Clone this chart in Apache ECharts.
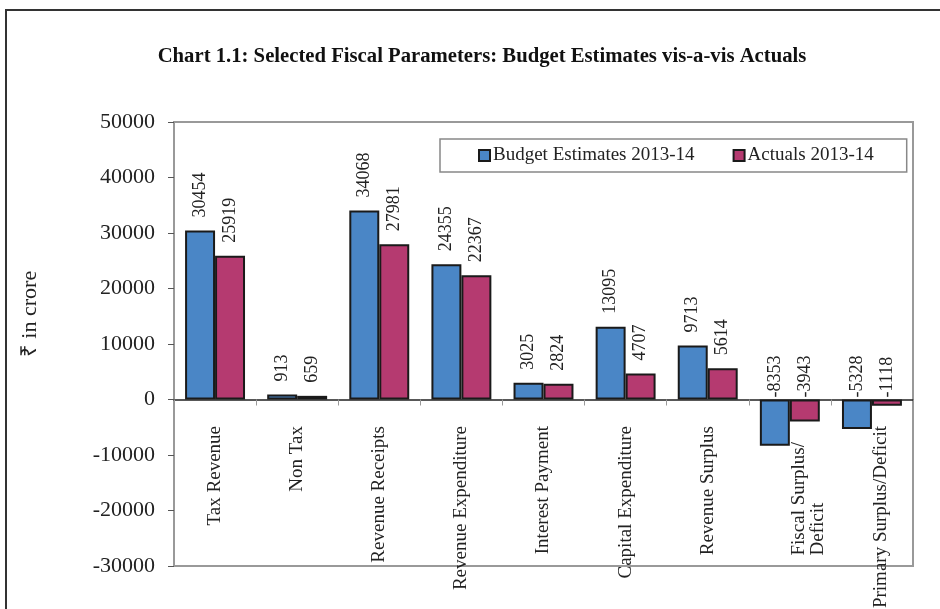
<!DOCTYPE html>
<html>
<head>
<meta charset="utf-8">
<script src="https://cdn.jsdelivr.net/npm/echarts@6/dist/echarts.min.js"></script>
<style>html,body{margin:0;padding:0;background:#fff}#c{width:940px;height:609px}</style>
</head>
<body>
<div id="c"></div>
<script>
const categories = ['Tax Revenue', 'Non Tax', 'Revenue Receipts', 'Revenue Expenditure', 'Interest Payment', 'Capital Expenditure', 'Revenue Surplus', 'Fiscal Surplus/\nDeficit', 'Primary Surplus/Deficit'];
const budgetEstimates = [30454, 913, 34068, 24355, 3025, 13095, 9713, -8353, -5328];
const actuals = [25919, 659, 27981, 22367, 2824, 4707, 5614, -3943, -1118];
const seriesNames = ['Budget Estimates 2013-14', 'Actuals 2013-14'];
const yTicks = { min: -30000, max: 50000, interval: 10000 };

const serif = '"Liberation Serif", "Times New Roman", serif';
const chart = echarts.init(document.getElementById('c'), null, { renderer: 'canvas' });

// label nudges (style only): number of blank leading lines (shift right) and extra gap from axis
const labelNudge = { 7: { lead: 2, gap: 16 }, 8: { lead: 1, gap: 0 } };

function catFormatter(value, index) {
  const n = labelNudge[index];
  if (!n) return value;
  const lines = value.split('\n').map((s, i) => '{a|' + s + '}' + (i === 0 && n.gap ? '{g|}' : ''));
  for (let i = 0; i < n.lead; i++) lines.unshift('{a| }');
  return lines.join('\n');
}

function toData(arr) {
  return arr.map(v => ({ value: v, label: { distance: v < 0 ? 2 : 13 } }));
}
const labelCfg = {
  show: true, position: 'top', rotate: 90, align: 'left', verticalAlign: 'middle',
  fontFamily: serif, fontSize: 18, color: '#222'
};

chart.setOption({
  animation: false,
  backgroundColor: '#fff',
  title: {
    text: 'Chart 1.1: Selected Fiscal Parameters: Budget Estimates vis-a-vis Actuals',
    left: 477, top: 41, textAlign: 'center',
    textStyle: { fontFamily: serif, fontWeight: 'bold', fontSize: 20.7, color: '#111' }
  },
  legend: {
    left: 440, top: 139,
    padding: [7, 33, 7, 38],
    itemGap: 38,
    itemWidth: 11, itemHeight: 11,
    icon: 'rect',
    borderColor: '#888', borderWidth: 1.5,
    textStyle: { fontFamily: serif, fontSize: 19, color: '#222', padding: [0, 0, 0, -2] },
    data: seriesNames
  },
  grid: {
    left: 174, right: 27, top: 122, bottom: 43,
    outerBoundsMode: 'none', containLabel: false,
    show: true, borderColor: '#999', borderWidth: 2, backgroundColor: 'transparent'
  },
  xAxis: {
    type: 'category',
    data: categories,
    axisLine: { onZero: true, lineStyle: { color: '#222', width: 1.5 } },
    axisTick: { show: true, length: 6, lineStyle: { color: '#999' } },
    axisLabel: {
      rotate: 90, margin: -140, fontFamily: serif, fontSize: 19, color: '#222',
      lineHeight: 19, interval: 0,
      formatter: catFormatter,
      rich: {
        a: { align: 'left', fontFamily: serif, fontSize: 19, lineHeight: 19, color: '#222' },
        g: { width: 16, fontSize: 19, lineHeight: 19 }
      }
    },
    splitLine: { show: false }
  },
  yAxis: {
    type: 'value',
    min: yTicks.min, max: yTicks.max, interval: yTicks.interval,
    axisLine: { show: true, lineStyle: { color: '#999', width: 2 } },
    axisTick: { show: true, length: 6, lineStyle: { color: '#555' } },
    axisLabel: { margin: 19, fontFamily: serif, fontSize: 22, color: '#222', formatter: v => String(v) },
    splitLine: { show: false }
  },
  graphic: [
    {
      type: 'polyline', silent: true,
      shape: { points: [[6, 609], [6, 10], [940, 10]] },
      style: { stroke: '#333', lineWidth: 2, fill: null }
    },
    {
      type: 'text', x: 30, y: 314, rotation: Math.PI / 2,
      style: {
        text: '₹ in crore', fontFamily: serif, fontSize: 22, fill: '#222',
        align: 'center', verticalAlign: 'middle'
      }
    }
  ],
  series: [
    {
      name: seriesNames[0], type: 'bar', data: toData(budgetEstimates),
      barGap: '0%', barCategoryGap: '27%',
      itemStyle: { color: '#4A86C6', borderColor: '#1a1a1a', borderWidth: 2 },
      label: labelCfg
    },
    {
      name: seriesNames[1], type: 'bar', data: toData(actuals),
      barGap: '0%', barCategoryGap: '27%',
      itemStyle: { color: '#B53A70', borderColor: '#1a1a1a', borderWidth: 2 },
      label: labelCfg
    }
  ]
});
</script>
</body>
</html>
